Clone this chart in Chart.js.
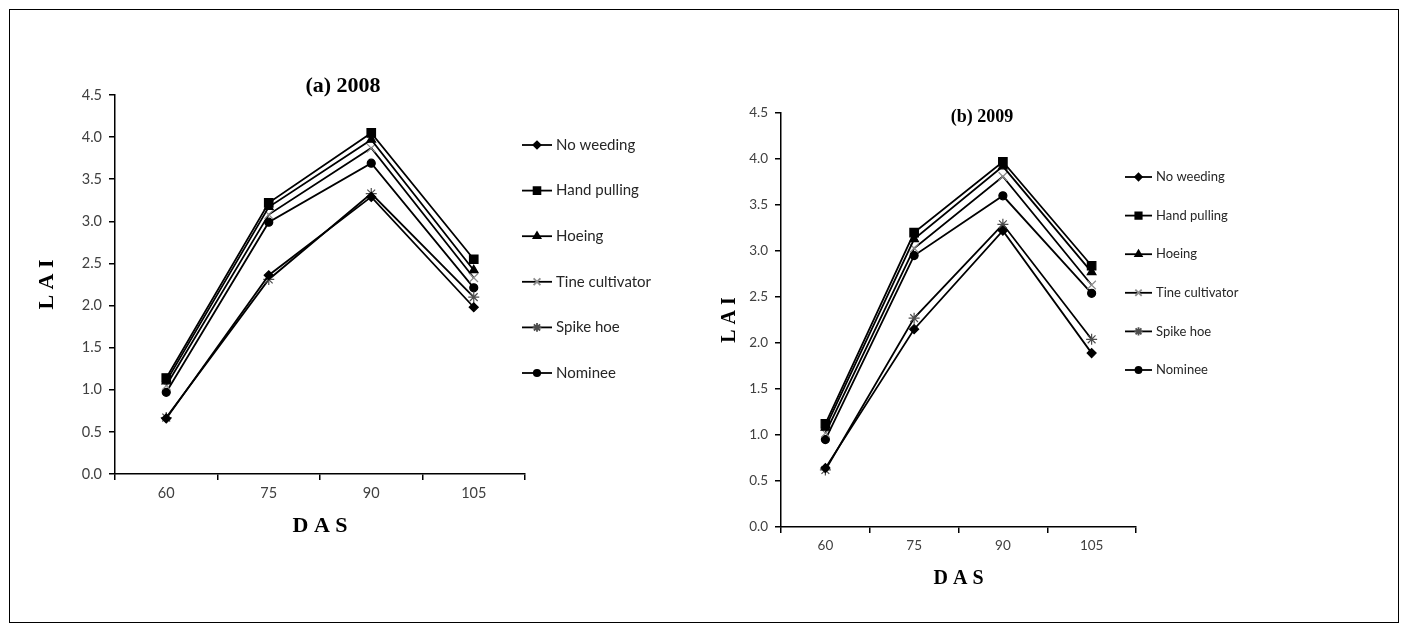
<!DOCTYPE html>
<html>
<head>
<meta charset="utf-8">
<script src="https://cdn.jsdelivr.net/npm/chart.js@4.4.1/dist/chart.umd.min.js"></script>
<style>
  body { margin: 0; background: #fff; }
  #frame { position: absolute; left: 9px; top: 9px; width: 1388px; height: 612px; border: 1px solid #000; }
  .panel { position: absolute; }
  #panelA { left: 20px; top: 60px; }
  #panelB { left: 700px; top: 80px; }
</style>
</head>
<body>
<div id="frame"></div>
<div class="panel" id="panelA"><canvas id="chartA" width="650" height="500"></canvas></div>
<div class="panel" id="panelB"><canvas id="chartB" width="560" height="520"></canvas></div>
<script>
// --- data ---
const das = ['60', '75', '90', '105'];
const treatments = ['No weeding', 'Hand pulling', 'Hoeing', 'Tine cultivator', 'Spike hoe', 'Nominee'];

// 2008
const noWeeding2008   = [0.66, 2.36, 3.29, 1.98];
const handPulling2008 = [1.14, 3.22, 4.05, 2.55];
const hoeing2008      = [1.10, 3.17, 3.97, 2.42];
const tine2008        = [1.05, 3.08, 3.87, 2.33];
const spikeHoe2008    = [0.67, 2.31, 3.33, 2.10];
const nominee2008     = [0.97, 2.99, 3.69, 2.21];

// 2009
const noWeeding2009   = [0.64, 2.15, 3.22, 1.89];
const handPulling2009 = [1.12, 3.20, 3.97, 2.84];
const hoeing2009      = [1.08, 3.13, 3.92, 2.77];
const tine2009        = [1.02, 3.03, 3.81, 2.63];
const spikeHoe2009    = [0.62, 2.27, 3.29, 2.04];
const nominee2009     = [0.95, 2.95, 3.60, 2.54];

const yMin = 0, yMax = 4.5, yStep = 0.5;

// --- marker styles, same order as treatments ---
const markers = [
  { style: 'rectRot',  radius: 4.5, color: '#000' },
  { style: 'rect',     radius: 6,   color: '#000' },
  { style: 'triangle', radius: 5,   color: '#000' },
  { style: 'crossRot', radius: 6,   color: '#8c8c8c' },
  { style: 'star',     radius: 5.5, color: '#4d4d4d' },
  { style: 'circle',   radius: 4,   color: '#000' }
];

// draws the panel heading relative to the plot area
const panelTitle = {
  id: 'panelTitle',
  afterDraw(chart, args, opts) {
    const { ctx, chartArea } = chart;
    ctx.save();
    ctx.font = opts.font;
    ctx.fillStyle = '#000';
    ctx.textAlign = 'center';
    ctx.textBaseline = 'middle';
    ctx.fillText(opts.text, chartArea.left + opts.fx * (chartArea.right - chartArea.left), chartArea.top + opts.dy);
    ctx.restore();
  }
};

// Excel style legend: short line with the marker in the middle
const sideLegend = {
  id: 'sideLegend',
  afterDraw(chart, args, opts) {
    const { ctx, chartArea } = chart;
    ctx.save();
    ctx.font = opts.font;
    ctx.textBaseline = 'middle';
    chart.data.datasets.forEach((ds, i) => {
      const y = chartArea.top + opts.top + i * opts.gap;
      const x0 = chartArea.right + opts.lineFrom;
      ctx.strokeStyle = '#000';
      ctx.lineWidth = ds.borderWidth;
      ctx.beginPath();
      ctx.moveTo(x0, y);
      ctx.lineTo(x0 + opts.lineLen, y);
      ctx.stroke();
      ctx.fillStyle = ds.pointBackgroundColor;
      ctx.strokeStyle = ds.pointBorderColor;
      Chart.helpers.drawPoint(ctx, {
        pointStyle: ds.pointStyle, radius: ds.pointRadius * opts.scale, rotation: 0, borderWidth: 1.2
      }, x0 + opts.lineLen / 2, y);
      ctx.fillStyle = '#262626';
      ctx.fillText(ds.label, x0 + opts.lineLen + opts.textGap, y);
    });
    ctx.restore();
  }
};

function makeDatasets(series) {
  return series.map((values, i) => ({
    label: treatments[i],
    data: values,
    borderColor: '#000',
    borderWidth: 1.8,
    pointStyle: markers[i].style,
    pointRadius: markers[i].radius,
    pointBackgroundColor: markers[i].color,
    pointBorderColor: markers[i].color,
    pointBorderWidth: 1.2,
    tension: 0
  }));
}

function makeChart(id, series, L) {
  const tickFont = { family: 'Lato', size: L.tickSize };
  const titleFont = { family: 'Liberation Serif', size: L.axisTitleSize, weight: 'bold' };
  return new Chart(document.getElementById(id), {
    type: 'line',
    data: { labels: das, datasets: makeDatasets(series) },
    plugins: [panelTitle, sideLegend],
    options: {
      responsive: false,
      animation: false,
      layout: { padding: { left: 0, top: L.padTop, right: L.padRight, bottom: 0 } },
      plugins: {
        legend: { display: false },
        tooltip: { enabled: false },
        panelTitle: { text: L.title, font: 'bold ' + L.titleSize + 'px "Liberation Serif"', fx: L.titleFx, dy: L.titleDy },
        sideLegend: { font: L.legendSize + 'px Lato', top: L.legendTop, gap: L.legendGap, lineFrom: L.lineFrom, lineLen: L.lineLen, textGap: 4, scale: L.legendScale }
      },
      scales: {
        x: {
          type: 'category',
          offset: true,
          grid: { display: true, offset: true, drawOnChartArea: false, drawTicks: true, tickLength: 6, color: '#000', lineWidth: 1.5 },
          border: { display: true, color: '#000', width: 1.5 },
          ticks: { color: '#404040', font: tickFont, padding: L.xTickPad },
          title: { display: true, text: 'D A S', color: '#000', font: titleFont, padding: { top: 0, bottom: L.xTitlePad } },
          afterFit: (s) => { s.height = L.xHeight; }
        },
        y: {
          min: yMin,
          max: yMax,
          grid: { display: true, drawOnChartArea: false, drawTicks: true, tickLength: 6, color: '#000', lineWidth: 1.5 },
          border: { display: true, color: '#000', width: 1.5 },
          ticks: { stepSize: yStep, color: '#404040', font: tickFont, padding: 7, callback: (v) => v.toFixed(1) },
          title: { display: true, text: 'L A I', color: '#000', font: titleFont, padding: { top: L.yTitlePad, bottom: 0 } },
          afterFit: (s) => { s.width = L.yWidth; }
        }
      }
    }
  });
}

makeChart('chartA',
  [noWeeding2008, handPulling2008, hoeing2008, tine2008, spikeHoe2008, nominee2008],
  { title: '(a) 2008', titleSize: 22, titleFx: 0.556, titleDy: -9,
    tickSize: 14.5, axisTitleSize: 22, padTop: 35, padRight: 145,
    yWidth: 95, yTitlePad: 14, xHeight: 86, xTickPad: 5, xTitlePad: 20,
    legendSize: 15, legendTop: 50, legendGap: 45.6, lineFrom: -3, lineLen: 30, legendScale: 0.8 });

makeChart('chartB',
  [noWeeding2009, handPulling2009, hoeing2009, tine2009, spikeHoe2009, nominee2009],
  { title: '(b) 2009', titleSize: 18, titleFx: 0.566, titleDy: 4,
    tickSize: 13.5, axisTitleSize: 20, padTop: 33, padRight: 124,
    yWidth: 81, yTitlePad: 18, xHeight: 73, xTickPad: 5, xTitlePad: 9,
    legendSize: 13, legendTop: 64, legendGap: 38.6, lineFrom: -11, lineLen: 27, legendScale: 0.75 });
</script>
</body>
</html>
